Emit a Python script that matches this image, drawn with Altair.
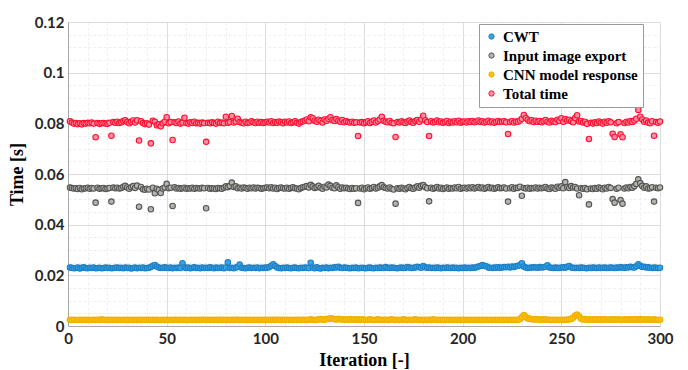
import altair as alt
import pandas as pd

# values in units of 1e-5 s, iterations 1..300
cwt = [
2310,2300,2280,2290,2310,2270,2300,2320,2290,2280,2300,2290,2310,2280,2290,2300,2280,2290,2310,2290,
2300,2280,2290,2300,2310,2290,2300,2280,2310,2290,2300,2270,2290,2310,2280,2300,2290,2310,2280,2290,
2300,2330,2380,2410,2350,2310,2290,2300,2320,2300,2290,2310,2280,2300,2290,2310,2290,2480,2320,2290,
2310,2280,2300,2320,2290,2300,2280,2310,2290,2300,2290,2320,2300,2280,2310,2290,2300,2310,2280,2310,
2510,2290,2300,2280,2310,2330,2430,2300,2290,2280,2300,2310,2290,2300,2290,2310,2280,2300,2290,2310,
2300,2330,2380,2440,2370,2310,2290,2280,2300,2290,2310,2290,2280,2300,2310,2290,2280,2300,2290,2310,
2300,2290,2500,2310,2280,2320,2290,2270,2300,2290,2310,2280,2300,2290,2320,2310,2340,2300,2290,2310,
2300,2290,2280,2300,2290,2310,2280,2290,2300,2290,2280,2300,2310,2290,2280,2300,2290,2310,2300,2290,
2330,2300,2290,2310,2300,2290,2280,2300,2310,2290,2300,2330,2310,2290,2300,2310,2340,2320,2300,2370,
2320,2300,2310,2290,2300,2290,2310,2300,2280,2300,2290,2310,2300,2290,2310,2290,2300,2280,2300,2290,
2310,2290,2300,2290,2310,2300,2320,2350,2370,2410,2380,2360,2310,2300,2290,2310,2300,2320,2300,2310,
2330,2320,2340,2310,2350,2330,2360,2380,2400,2480,2350,2310,2290,2300,2310,2320,2310,2300,2330,2310,
2320,2340,2400,2310,2300,2290,2310,2300,2290,2310,2320,2300,2340,2370,2310,2300,2290,2300,2290,2310,
2300,2290,2280,2300,2290,2310,2300,2290,2310,2290,2300,2310,2290,2300,2310,2300,2290,2310,2300,2320,
2310,2300,2320,2310,2340,2320,2310,2360,2440,2380,2330,2340,2310,2320,2300,2290,2310,2300,2290,2300,
]

export = [
5470,5450,5430,5440,5410,5450,5400,5430,5440,5460,5420,5450,5430,4870,5460,5420,5440,5450,5410,5430,
5450,4910,5470,5440,5460,5430,5450,5500,5530,5470,5420,5480,5520,5450,5540,4710,5490,5400,5380,5420,
5390,4610,5460,5240,5420,5370,5250,5430,5470,5610,5440,5460,4740,5480,5430,5450,5420,5440,5460,5420,
5440,5430,5460,5420,5450,5440,5430,5460,5440,4650,5450,5420,5440,5430,5410,5450,5440,5420,5460,5510,
5480,5530,5660,5490,5510,5440,5460,5430,5470,5450,5420,5460,5440,5470,5430,5460,5450,5420,5440,5460,
5470,5440,5480,5430,5460,5410,5450,5470,5440,5430,5460,5420,5450,5480,5440,5430,5400,5450,5480,5500,
5520,5470,5570,5510,5450,5480,5530,5460,5420,5500,5470,5580,5530,5460,5440,5550,5480,5420,5470,5440,
5460,5430,5410,5450,5420,5440,4860,5430,5460,5400,5440,5470,5420,5450,5490,5430,5460,5510,5560,5480,
5450,5430,5470,5420,5390,4830,5440,5420,5460,5430,5400,5450,5490,5440,5420,5470,5510,5460,5530,5560,
5490,5440,4920,5460,5420,5450,5490,5430,5460,5410,5440,5470,5420,5450,5430,5470,5440,5490,5420,5450,
5460,5430,5470,5440,5480,5430,5460,5490,5440,5470,5420,5450,5490,5440,5460,5420,5450,5480,5440,5450,
5470,5430,4910,5440,5480,5420,5460,5450,5500,5140,5450,5430,5460,5420,5450,5440,5470,5430,5460,5440,
5460,5490,5430,5410,5470,5450,5420,5500,5460,5510,5440,5680,5480,5450,5520,5470,5490,5430,5160,5440,
5420,5450,5400,4800,5430,5410,5450,5420,5470,5440,5400,5460,5430,5490,5450,5010,4870,5420,5460,4970,
4830,5430,5470,5440,5490,5460,5520,5610,5790,5640,5530,5460,5510,5430,5440,5480,4910,5460,5440,5470,
]

cnn = [
250,240,250,240,240,250,240,250,240,250,240,240,250,240,250,240,260,250,240,250,
240,250,240,250,240,250,240,250,240,250,240,250,240,250,240,250,240,250,240,250,
250,240,250,240,250,240,240,250,240,250,240,250,240,250,250,240,250,240,250,240,
240,250,240,250,240,250,240,250,250,240,250,240,250,240,250,240,250,240,250,240,
250,240,250,240,250,250,240,250,240,250,240,250,240,250,240,250,240,250,240,250,
240,250,240,250,240,250,250,240,250,240,250,240,250,240,250,240,250,240,250,250,
240,250,260,250,240,250,260,270,260,250,270,280,300,290,270,260,280,270,260,250,
260,250,270,250,260,250,260,250,260,250,240,250,260,250,240,250,260,250,240,250,
250,240,250,260,250,240,250,240,250,260,250,240,250,240,250,260,250,240,250,240,
250,240,250,240,260,250,240,250,240,250,240,250,240,250,240,250,240,250,240,250,
240,250,240,250,240,250,240,250,240,250,240,250,240,250,240,250,240,250,240,250,
240,250,240,250,240,250,240,250,270,340,430,360,300,280,270,260,270,260,250,260,
250,260,250,250,240,250,240,250,240,250,240,250,250,260,280,330,410,450,380,290,
260,270,250,260,250,260,250,260,250,260,250,260,250,250,260,250,260,250,260,250,
250,260,250,260,250,260,250,260,250,270,250,260,250,260,250,250,260,250,240,250,
]

total = [
8080,8030,7990,8010,7970,8000,7960,8010,7990,8020,8000,8030,7990,7450,8010,7980,8000,8010,7990,7980,
8020,7510,8050,8020,8060,8010,8040,8090,8120,8050,8000,8060,8110,8030,8120,7320,8080,8010,7970,8000,
7950,7210,8100,8060,7920,7960,7880,8000,8060,8240,8000,8050,7340,8040,8010,8070,7990,8030,8220,8010,
7990,8040,8010,8060,8000,8020,7990,8030,8010,7270,8020,8000,8040,8010,7990,8060,8010,8030,8000,8260,
8020,8050,8290,8030,8070,8180,8050,8020,8000,8060,8010,8030,8080,8040,8010,8060,8020,8050,8010,8040,
8060,8030,8080,8010,8050,8020,8070,8040,8000,8060,8030,8070,8010,8040,8080,8020,7990,8050,8080,8110,
8150,8080,8240,8200,8100,8060,8140,8090,8030,8150,8100,8180,8240,8130,8090,8170,8100,8060,8130,8040,
8080,8050,8030,8060,8020,8040,7500,8030,8050,8000,8040,8080,8010,8060,8110,8030,8090,8150,8260,8100,
8060,8040,8090,8020,8000,7460,8050,8030,8080,8040,8010,8070,8110,8050,8020,8090,8130,8060,8150,8300,
8120,8050,7500,8080,8030,8060,8110,8040,8070,8020,8050,8090,8010,8060,8030,8080,8040,8100,8020,8060,
8070,8030,8080,8050,8090,8040,8070,8110,8050,8080,8030,8060,8100,8040,8070,8020,8060,8090,8050,8060,
8080,8040,7580,8050,8090,8030,8070,8060,8110,8180,8330,8210,8140,8080,8120,8050,8100,8060,8090,8040,
8080,8130,8060,8030,8100,8070,8050,8140,8090,8200,8060,8170,8110,8140,8080,8040,8210,8320,8070,8090,
8030,8060,7980,7380,8020,7990,8040,8010,8070,8030,7990,8060,8020,8080,8040,7590,7460,8000,8050,7570,
7450,8010,8060,8030,8090,8050,8110,8180,8530,8260,8150,8060,8110,8030,8000,8080,7510,8050,8020,8070,
]

series_names = ["CWT", "Input image export", "CNN model response", "Total time"]
fill_colors = ["#3aa3e6", "#b4b4ac", "#ffc20e", "#ff8ea6"]
stroke_colors = ["#1a7fc6", "#555555", "#f0b000", "#ff1030"]
x_ticks = list(range(0, 301, 10))
y_ticks = [round(i * 0.005, 3) for i in range(0, 25)]

rows = []
for name, vals in zip(series_names, [cwt, export, cnn, total]):
    for i, v in enumerate(vals):
        rows.append({"Iteration": i + 1, "Time": v / 100000.0, "series": name})
df = pd.DataFrame(rows)

label_font = "Lato"
title_font = "Liberation Serif"

x_axis = alt.Axis(
    values=x_ticks,
    labelExpr="datum.value % 50 === 0 ? datum.label : ''",
    labelFlush=False,
    gridColor={"condition": {"test": "datum.value % 50 === 0", "value": "#dcdcdc"}, "value": "#efefef"},
    gridDash={"condition": {"test": "datum.value % 50 === 0", "value": []}, "value": [3, 2]},
    ticks=False,
    domainColor="#a6a6a6",
    labelFont=label_font, labelFontSize=15, labelFontWeight="bold", labelColor="#262626",
    labelPadding=5,
    title="Iteration [-]", titleFont=title_font, titleFontSize=18, titleFontWeight="bold",
    titleColor="#000000", titlePadding=5,
)
y_axis = alt.Axis(
    values=y_ticks,
    labelExpr="round(datum.value * 1000) % 20 === 0 ? format(datum.value, '~g') : ''",
    labelFlush=False,
    gridColor={"condition": {"test": "round(datum.value * 1000) % 20 === 0", "value": "#dcdcdc"}, "value": "#efefef"},
    gridDash={"condition": {"test": "round(datum.value * 1000) % 20 === 0", "value": []}, "value": [3, 2]},
    ticks=False,
    domainColor="#a6a6a6",
    labelFont=label_font, labelFontSize=15, labelFontWeight="bold", labelColor="#262626",
    labelPadding=4,
    title="Time [s]", titleFont=title_font, titleFontSize=18, titleFontWeight="bold",
    titleColor="#000000", titlePadding=8,
)

legend = alt.Legend(
    title=None, orient="none", legendX=411, legendY=2,
    labelFont=title_font, labelFontSize=15, labelFontWeight="bold", labelColor="#000000",
    symbolSize=28, symbolStrokeWidth=1, rowPadding=3, padding=5,
    strokeColor="#9a9a9a", fillColor="#ffffff", labelOffset=4,
)

chart = alt.Chart(df).mark_point(filled=True, shape="circle", size=30, strokeWidth=1.1, opacity=1).encode(
    x=alt.X("Iteration:Q", scale=alt.Scale(domain=[0, 300], nice=False, zero=False), axis=x_axis),
    y=alt.Y("Time:Q", scale=alt.Scale(domain=[0, 0.12], nice=False), axis=y_axis),
    fill=alt.Fill("series:N", scale=alt.Scale(domain=series_names, range=fill_colors), legend=legend, sort=series_names),
    stroke=alt.Stroke("series:N", scale=alt.Scale(domain=series_names, range=stroke_colors), legend=legend, sort=series_names),
).properties(
    width=592, height=304,
    autosize=alt.AutoSizeParams(type="none"),
    padding={"left": 68, "top": 22, "right": 28, "bottom": 44},
).configure_view(
    stroke="#a6a6a6", strokeWidth=1
).configure(background="white")

chart.save("out.html", embed_options={"renderer": "svg", "actions": False})
